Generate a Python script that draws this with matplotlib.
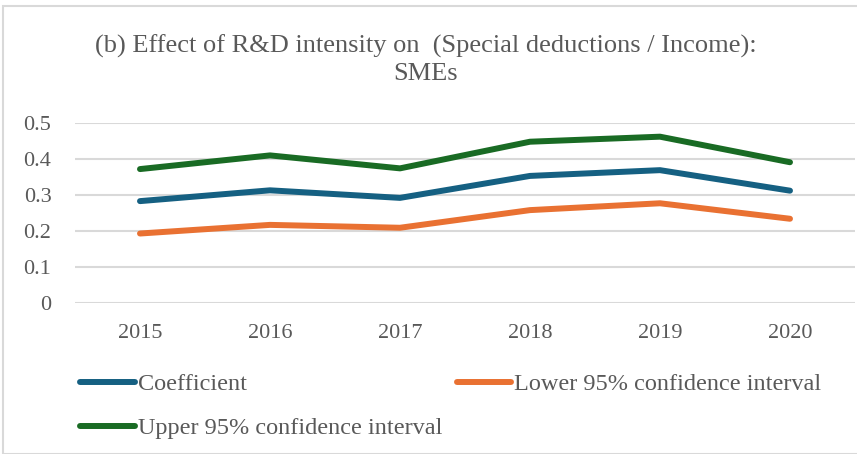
import matplotlib.pyplot as plt
from matplotlib.patches import Rectangle

# data
years = ['2015', '2016', '2017', '2018', '2019', '2020']
coef = [0.283, 0.313, 0.292, 0.353, 0.369, 0.312]
lower = [0.193, 0.217, 0.209, 0.258, 0.277, 0.234]
upper = [0.372, 0.410, 0.374, 0.448, 0.462, 0.391]

plt.rcParams['font.family'] = ['Liberation Serif', 'DejaVu Serif']
grey = '#595959'

fig = plt.figure(figsize=(8.57, 4.54), dpi=100)
ax = fig.add_axes([75 / 857, 1 - 303 / 454, 780 / 857, 180 / 454])

x = range(len(years))
l1, = ax.plot(x, coef, color='#156082', lw=4.3, solid_capstyle='round', label='Coefficient')
l2, = ax.plot(x, lower, color='#E97132', lw=4.3, solid_capstyle='round', label='Lower 95% confidence interval')
l3, = ax.plot(x, upper, color='#196B24', lw=4.3, solid_capstyle='round', label='Upper 95% confidence interval')

ax.set_xlim(-0.5, 5.5)
ax.set_ylim(0, 0.5)
ax.set_yticks([0, 0.1, 0.2, 0.3, 0.4, 0.5])
ax.set_yticklabels(['0', '0.1', '0.2', '0.3', '0.4', '0.5'])
ax.set_xticks(list(x))
ax.set_xticklabels(years)
ax.tick_params(length=0, labelsize=16, colors=grey)
ax.tick_params(axis='x', pad=15)
ax.tick_params(axis='y', pad=17)
ax.grid(axis='y', color='#d9d9d9', lw=1.5)
ax.set_axisbelow(True)
for s in ax.spines.values():
    s.set_visible(False)

fig.text(0.497, 0.868, '(b) Effect of R&D intensity on  (Special deductions / Income):\nSMEs',
         ha='center', va='center', fontsize=19, color=grey, linespacing=1.3)

# row-wise order like Excel: coef, lower / upper
ax.legend([l1, l3, l2], [l1.get_label(), l3.get_label(), l2.get_label()],
          loc='upper left', bbox_to_anchor=(80 / 857, 1 - 373 / 454), bbox_transform=fig.transFigure,
          ncol=2, frameon=False, fontsize=17.5, labelcolor=grey, handlelength=2.25,
          handletextpad=0.12, columnspacing=0.6, borderaxespad=0, borderpad=0, labelspacing=0.92)

fig.patches.append(Rectangle((3 / 857, 0), 860 / 857, 1 - 6 / 454, transform=fig.transFigure,
                             fill=False, edgecolor='#d9d9d9', lw=1.5))

fig.savefig('out.png', dpi=100)
